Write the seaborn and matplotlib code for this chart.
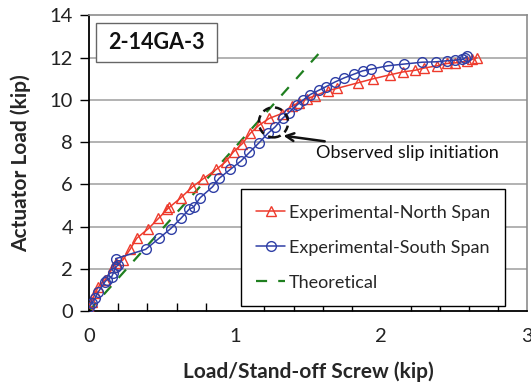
import matplotlib
matplotlib.use("Agg")
import matplotlib.pyplot as plt
from matplotlib.patches import Ellipse, Rectangle
from matplotlib.ticker import MultipleLocator
import seaborn as sns
import pandas as pd

# ---- data ----
north_x = [0.0, 0.018, 0.041, 0.064, 0.11, 0.167, 0.185, 0.231, 0.281, 0.326, 0.406, 0.475,
           0.537, 0.550, 0.628, 0.708, 0.779, 0.870, 0.936, 0.989, 1.050, 1.103, 1.164, 1.233,
           1.320, 1.388, 1.434, 1.491, 1.548, 1.632, 1.696, 1.838, 1.941, 2.057, 2.148, 2.233,
           2.290, 2.381, 2.450, 2.507, 2.587, 2.621, 2.655]
north_y = [0.13, 0.44, 0.84, 1.15, 1.47, 2.10, 2.26, 2.41, 2.92, 3.44, 3.90, 4.38,
           4.83, 4.91, 5.36, 5.88, 6.25, 6.70, 7.07, 7.54, 7.93, 8.41, 8.80, 9.12,
           9.35, 9.70, 9.86, 10.06, 10.19, 10.43, 10.54, 10.80, 10.99, 11.18, 11.32, 11.40,
           11.50, 11.61, 11.72, 11.75, 11.83, 11.91, 11.99]

south_x = [0.0, 0.018, 0.041, 0.064, 0.11, 0.121, 0.155, 0.167, 0.185, 0.201, 0.183, 0.388,
           0.479, 0.559, 0.628, 0.687, 0.715, 0.760, 0.845, 0.890, 0.966, 1.041, 1.098, 1.164,
           1.224, 1.274, 1.324, 1.365, 1.422, 1.463, 1.514, 1.575, 1.621, 1.685, 1.747, 1.811,
           1.872, 1.929, 2.043, 2.153, 2.279, 2.377, 2.450, 2.507, 2.553, 2.575, 2.587]
south_y = [0.17, 0.36, 0.60, 0.91, 1.39, 1.47, 1.62, 1.81, 2.10, 2.18, 2.48, 2.92,
           3.44, 3.90, 4.38, 4.83, 4.91, 5.36, 5.88, 6.28, 6.70, 7.11, 7.51, 7.97,
           8.41, 8.72, 9.12, 9.38, 9.75, 9.98, 10.25, 10.46, 10.62, 10.85, 11.04, 11.21,
           11.37, 11.45, 11.61, 11.69, 11.78, 11.80, 11.85, 11.88, 11.91, 11.99, 12.07]

theory_x = [0.0, 1.58]
theory_y = [0.0, 12.25]

series_labels = ["Experimental-North Span", "Experimental-South Span", "Theoretical"]
x_ticks = [0, 1, 2, 3]
y_ticks = [0, 2, 4, 6, 8, 10, 12, 14]
specimen = "2-14GA-3"
slip_x, slip_y = 1.262, 8.93

north = pd.DataFrame({"x": north_x, "y": north_y})
south = pd.DataFrame({"x": south_x, "y": south_y})
theory = pd.DataFrame({"x": theory_x, "y": theory_y})

sns.set_theme(style="white")
plt.rcParams["font.family"] = ["Lato", "DejaVu Sans"]

RED = "#EE3A2C"
BLUE = "#2F3FA6"
GREEN = "#1F7F1F"

fig = plt.figure(figsize=(5.31, 3.83), dpi=100)
ax = fig.add_axes([0.1676, 0.188, 0.8258, 0.772])

# grid
for yv in y_ticks[1:-1]:
    ax.axhline(yv, color="#A6A6A6", lw=1.2, zorder=0)

sns.lineplot(data=north, x="x", y="y", sort=False, estimator=None, ax=ax, color=RED, lw=1.1,
             marker="^", markersize=6.5, markerfacecolor="none", markeredgecolor=RED,
             markeredgewidth=1.0, label=series_labels[0], zorder=3)
sns.lineplot(data=south, x="x", y="y", sort=False, estimator=None, ax=ax, color=BLUE, lw=1.1,
             marker="o", markersize=7, markerfacecolor="none", markeredgecolor=BLUE,
             markeredgewidth=1.0, label=series_labels[1], zorder=4)
sns.lineplot(data=theory, x="x", y="y", sort=False, estimator=None, ax=ax, color=GREEN, lw=1.6,
             dashes=False, label=series_labels[2], zorder=2)
ax.lines[-1].set_dashes([5, 5])

ax.set_xlim(0, 3)
ax.set_ylim(0, 14)
ax.set_xticks(x_ticks)
ax.set_yticks(y_ticks)
ax.xaxis.set_minor_locator(MultipleLocator(0.2))
ax.tick_params(axis="x", which="major", direction="inout", length=13, width=1, color="black",
               labelsize=14.5, pad=6)
ax.tick_params(axis="x", which="minor", direction="in", length=6, width=1, color="black",
               bottom=True)
ax.tick_params(axis="y", which="major", direction="out", length=6.5, width=1, color="black",
               labelsize=14.5, pad=5, left=True)
for lab in ax.get_xticklabels() + ax.get_yticklabels():
    lab.set_color("#222222")

ax.set_xlabel("Load/Stand-off Screw (kip)", fontsize=15, fontweight="bold", labelpad=11.5)
ax.set_ylabel("Actuator Load (kip)", fontsize=15, fontweight="bold", labelpad=13)

for side in ["left", "bottom"]:
    ax.spines[side].set_color("black")
    ax.spines[side].set_linewidth(1.3)
for side in ["top", "right"]:
    ax.spines[side].set_color("#8C8C8C")
    ax.spines[side].set_linewidth(1.2)
    ax.spines[side].set_visible(True)

# specimen label box
ax.add_patch(Rectangle((0.016, 0.843), 0.275, 0.132, transform=ax.transAxes, fill=True,
                       facecolor="white", edgecolor="#666666", lw=1.0, zorder=5))
ax.text(0.153, 0.909, specimen, transform=ax.transAxes, ha="center", va="center",
        fontsize=15.5, fontweight="bold", color="#111111", zorder=6)

# slip initiation marker
ax.add_patch(Ellipse((slip_x, slip_y), 0.2, 1.42, fill=False, ls=(0, (3, 2)), lw=1.8,
                     edgecolor="#111111", zorder=6))
ax.annotate("Observed slip initiation", xy=(1.33, 8.3), xytext=(1.555, 7.5),
            fontsize=13, ha="left", va="center", color="#111111",
            arrowprops=dict(arrowstyle="->", lw=1.8, color="#111111",
                            shrinkA=0, shrinkB=0, mutation_scale=14), zorder=6)

leg = ax.legend(loc="lower left", bbox_to_anchor=(0.346, 0.017), frameon=True, fancybox=False,
                edgecolor="black", fontsize=13, handlelength=1.6, handletextpad=0.2,
                labelspacing=1.05, borderpad=0.85, borderaxespad=0, framealpha=1)
leg.get_frame().set_linewidth(1.0)
leg.set_zorder(2.5)

fig.savefig("out.png", dpi=100)
